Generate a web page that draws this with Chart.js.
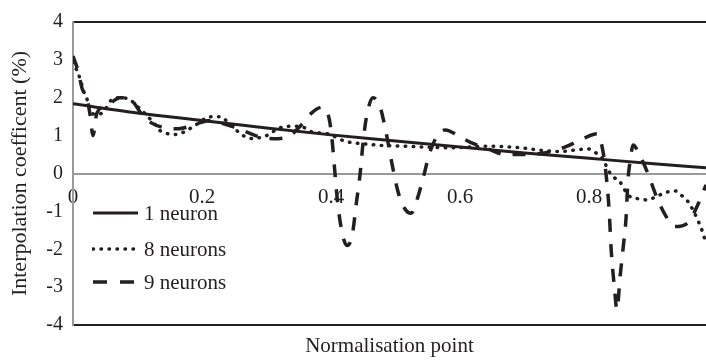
<!DOCTYPE html>
<html>
<head>
  <title>Interpolation coefficient</title>
  <script src="https://cdn.jsdelivr.net/npm/chart.js"></script>
  <style>
    body { margin: 0; background: #fff; }
    #wrap { position: relative; width: 706px; height: 361px; font-family: "Liberation Serif", serif; color: #231f20; }
    #legend { position: absolute; left: 92px; top: 0; font-size: 21px; }
    .row { position: absolute; left: 0; display: flex; align-items: center; white-space: nowrap; height: 24px; }
    .row svg { margin-right: 3px; }
    #xtitle { position: absolute; left: 73px; width: 633px; top: 332px; text-align: center; font-size: 21px; line-height: 26px; }
  </style>
</head>
<body>
  <div id="wrap">
    <canvas id="chart" width="706" height="361"></canvas>
    <div id="legend"></div>
    <div id="xtitle">Normalisation point</div>
  </div>

  <script>
    // values
    const seriesNames = ['1 neuron', '8 neurons', '9 neurons'];

    const oneNeuronX = [0, 0.1, 0.2, 0.3, 0.4, 0.5, 0.6, 0.7, 0.8, 0.9, 0.981];
    const oneNeuronY = [1.84, 1.6, 1.4, 1.2, 1.02, 0.86, 0.7, 0.54, 0.4, 0.26, 0.15];

    const eightNeuronsX = [0, 0.011, 0.016, 0.022, 0.029, 0.036, 0.045, 0.053, 0.06, 0.073, 0.088, 0.1,
      0.127, 0.135, 0.147, 0.158, 0.17, 0.192, 0.212, 0.228, 0.243, 0.254, 0.264, 0.278, 0.29, 0.3,
      0.32, 0.34, 0.357, 0.37, 0.394, 0.422, 0.453, 0.48, 0.515, 0.543, 0.585, 0.647, 0.693, 0.732,
      0.755, 0.778, 0.798, 0.81, 0.822, 0.829, 0.837, 0.848, 0.856, 0.864, 0.879, 0.89, 0.905, 0.921,
      0.933, 0.944, 0.953, 0.961, 0.969, 0.975, 0.981];
    const eightNeuronsY = [2.95, 2.5, 2.2, 1.95, 1.6, 1.56, 1.6, 1.77, 1.95, 2.0, 1.95, 1.77,
      1.3, 1.13, 1.05, 1.03, 1.08, 1.3, 1.5, 1.5, 1.3, 1.13, 1.0, 0.92, 0.95, 1.0,
      1.2, 1.25, 1.22, 1.1, 1.05, 0.85, 0.78, 0.74, 0.72, 0.7, 0.68, 0.72, 0.68, 0.6,
      0.58, 0.62, 0.65, 0.55, 0.36, 0.1, -0.08, -0.23, -0.46, -0.62, -0.67, -0.7, -0.6, -0.49,
      -0.46, -0.59, -0.74, -0.97, -1.26, -1.51, -1.85];

    const nineNeuronsX = [0, 0.008, 0.014, 0.022, 0.026, 0.031, 0.037, 0.053, 0.073, 0.085, 0.107, 0.122,
      0.146, 0.163, 0.19, 0.212, 0.236, 0.254, 0.293, 0.318, 0.336, 0.355, 0.37, 0.386, 0.397, 0.402,
      0.406, 0.411, 0.419, 0.425, 0.433, 0.439, 0.445, 0.45, 0.456, 0.465, 0.476, 0.485, 0.495, 0.504,
      0.515, 0.524, 0.533, 0.543, 0.552, 0.563, 0.577, 0.597, 0.616, 0.639, 0.67, 0.7, 0.732, 0.763,
      0.794, 0.812, 0.82, 0.826, 0.831, 0.834, 0.839, 0.843, 0.848, 0.853, 0.857, 0.86, 0.864, 0.868,
      0.879, 0.891, 0.904, 0.918, 0.933, 0.953, 0.969, 0.981];
    const nineNeuronsY = [3.1, 2.7, 2.25, 1.95, 1.6, 1.0, 1.6, 1.8, 2.0, 2.0, 1.56, 1.33,
      1.2, 1.18, 1.3, 1.4, 1.3, 1.2, 0.95, 0.92, 1.0, 1.3, 1.6, 1.75, 1.45, 0.8,
      0.0, -0.9, -1.7, -1.9, -1.6, -0.8, 0.0, 0.9, 1.6, 2.0, 1.75, 1.1, 0.2, -0.5,
      -0.95, -1.05, -0.7, -0.1, 0.5, 0.95, 1.15, 1.0, 0.82, 0.68, 0.5, 0.5, 0.55, 0.7,
      0.95, 1.05, 0.7, 0.0, -1.0, -2.0, -3.0, -3.6, -2.7, -1.9, -1.2, -0.2, 0.4, 0.75,
      0.45, 0.0, -0.6, -1.1, -1.4, -1.3, -0.8, -0.3];

    const xMax = 0.981;
    const ink = '#231f20';
    const axisGrey = '#9a9a9a';
    const serif = '"Liberation Serif", "Times New Roman", serif';

    function zip(xs, ys) {
      return xs.map((x, i) => ({ x: x, y: ys[i] }));
    }

    const styles = [
      { dash: [], width: 3, cap: 'butt' },
      { dash: [0.5, 7.5], width: 3.5, cap: 'round' },
      { dash: [13, 12], width: 3.5, cap: 'butt' },
    ];

    const datasets = [
      zip(oneNeuronX, oneNeuronY),
      zip(eightNeuronsX, eightNeuronsY),
      zip(nineNeuronsX, nineNeuronsY),
    ].map((pts, i) => ({
      label: seriesNames[i],
      data: pts,
      showLine: true,
      borderColor: ink,
      borderWidth: styles[i].width,
      borderDash: styles[i].dash,
      borderCapStyle: styles[i].cap,
      pointRadius: 0,
      cubicInterpolationMode: 'monotone',
      fill: false,
    }));

    new Chart(document.getElementById('chart').getContext('2d'), {
      type: 'scatter',
      data: { datasets: datasets },
      options: {
        responsive: false,
        animation: false,
        layout: { padding: { top: 13, right: 0, left: 0, bottom: 36 } },
        plugins: {
          legend: { display: false },
          tooltip: { enabled: false },
        },
        scales: {
          x: {
            type: 'linear',
            position: { y: 0 },
            min: 0,
            max: xMax,
            afterBuildTicks: (scale) => {
              scale.ticks = scale.ticks.filter(t => Math.abs(t.value * 5 - Math.round(t.value * 5)) < 1e-6);
            },
            ticks: { stepSize: 0.2, color: ink, padding: 11, maxRotation: 0, font: { family: serif, size: 21 } },
            grid: { display: false, drawTicks: false },
            border: { display: true, color: axisGrey, width: 2 },
          },
          y: {
            min: -4,
            max: 4,
            afterFit: (scale) => { scale.width = 73; },
            ticks: { stepSize: 1, color: ink, padding: 10, font: { family: serif, size: 20 } },
            grid: {
              drawTicks: false,
              color: (ctx) => (ctx.tick && Math.abs(ctx.tick.value) === 4 ? ink : 'rgba(0,0,0,0)'),
              lineWidth: 2,
            },
            border: { display: true, color: axisGrey, width: 2 },
            title: {
              display: true,
              text: 'Interpolation coefficent (%)',
              color: ink,
              font: { family: serif, size: 22 },
              padding: { top: 7, bottom: 0 },
            },
          },
        },
      },
    });

    // legend inside the plot, drawn as html
    const legendRows = [213, 249, 282];
    const legend = document.getElementById('legend');
    seriesNames.forEach((name, i) => {
      const row = document.createElement('div');
      row.className = 'row';
      row.style.top = (legendRows[i] - 12) + 'px';
      const st = styles[i];
      const dash = st.dash.length ? 'stroke-dasharray="' + (i === 2 ? '14 13' : st.dash.join(' ')) + '"' : '';
      row.innerHTML = '<svg width="49" height="20"><line x1="1" y1="10" x2="' + (i === 1 ? 42 : 46) + '" y2="10" stroke="' + ink +
        '" stroke-width="' + st.width + '" stroke-linecap="' + st.cap + '" ' + dash + '/></svg>' +
        '<span>' + name + '</span>';
      legend.appendChild(row);
    });
  </script>
</body>
</html>
